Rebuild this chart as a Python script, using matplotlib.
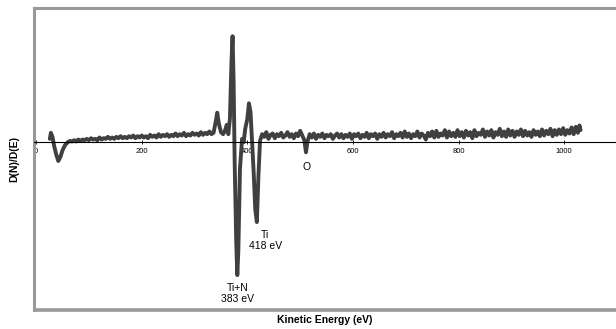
import matplotlib
matplotlib.use("Agg")
import matplotlib.pyplot as plt
import numpy as np

plt.rcParams['font.family'] = ['Liberation Sans', 'DejaVu Sans']

# Auger spectrum, values (arbitrary units)
# low-energy part, up to the Ti/N region
low_ev = [
    26, 28, 31, 34, 38, 42, 46, 50, 55,
    60, 64, 68, 72, 76, 80, 84, 88, 92, 96, 100, 104, 108, 112, 116, 120,
    124, 128, 132, 136, 140, 144, 148, 152, 156, 160, 164, 168, 172, 176, 180,
    184, 188, 192, 196, 200, 204, 208, 212, 216, 220, 224, 228, 232, 236, 240,
    244, 248, 252, 256, 260, 264, 268, 272, 276, 280, 284, 288, 292, 296, 300,
    304, 308, 312, 316, 320, 324, 328, 332, 336,
]
low_dnde = [
    0.05, 0.14, 0.08, -0.05, -0.18, -0.28, -0.22, -0.12, -0.04,
    0.00, 0.02, 0.01, 0.03, 0.01, 0.04, 0.02, 0.04, 0.03, 0.05, 0.03, 0.06, 0.04, 0.05, 0.03, 0.07,
    0.04, 0.06, 0.05, 0.08, 0.05, 0.07, 0.05, 0.08, 0.06, 0.09, 0.06, 0.08, 0.06, 0.09, 0.07,
    0.10, 0.06, 0.09, 0.07, 0.10, 0.07, 0.09, 0.06, 0.11, 0.08, 0.10, 0.07, 0.12, 0.08, 0.11,
    0.09, 0.12, 0.08, 0.11, 0.09, 0.13, 0.09, 0.12, 0.10, 0.14, 0.09, 0.12, 0.10, 0.14, 0.11,
    0.13, 0.10, 0.15, 0.11, 0.14, 0.12, 0.16, 0.12, 0.14,
]

# Ti+N (383 eV) and Ti (418 eV) structure
peak_ev = [
    340, 343, 346, 350, 354, 358, 361, 364, 367, 370, 372, 374, 376, 379,
    381, 383, 386, 390, 393, 396, 400, 403, 406, 409, 412, 415, 418, 421, 424,
]
peak_dnde = [
    0.30, 0.44, 0.28, 0.15, 0.12, 0.18, 0.26, 0.12, 0.35, 1.20, 1.58, 0.90, -0.30, -1.50,
    -1.98, -1.60, -0.40, 0.05, 0.00, 0.20, 0.35, 0.58, 0.45, 0.00, -0.45, -1.00, -1.19, -0.50, 0.02,
]

# high-energy part with the O dip at ~511 eV
high_ev = [
    428, 432, 436, 440, 444, 448, 452, 456, 460, 464, 468, 472, 476, 480,
    484, 488, 492, 496, 500, 504, 508, 511, 514,
    518, 522, 526, 530, 534, 538, 542, 546, 550, 554, 558, 562, 566, 570,
    574, 578, 582, 586, 590, 594, 598, 602, 606, 610, 614, 618, 622, 626,
    630, 634, 638, 642, 646, 650, 654, 658, 662, 666, 670, 674, 678, 682,
    686, 690, 694, 698, 702, 706, 710, 714, 718, 722, 726, 730, 734, 738,
    742, 746, 750, 754, 758, 762, 766, 770, 774, 778, 782, 786, 790, 794,
    798, 802, 806, 810, 814, 818, 822, 826, 830, 834, 838, 842, 846, 850,
    854, 858, 862, 866, 870, 874, 878, 882, 886, 890, 894, 898, 902, 906,
    910, 914, 918, 922, 926, 930, 934, 938, 942, 946, 950, 954, 958, 962,
    966, 970, 974, 978, 982, 986, 990, 994, 998, 1002, 1006, 1010, 1014, 1018,
    1022, 1026, 1029, 1031,
]
high_dnde = [
    0.12, 0.08, 0.15, 0.05, 0.11, 0.13, 0.06, 0.12, 0.09, 0.14, 0.07, 0.10, 0.15, 0.08,
    0.12, 0.06, 0.13, 0.09, 0.17, 0.10, 0.03, -0.15, 0.01,
    0.12, 0.07, 0.13, 0.05, 0.11, 0.08, 0.13, 0.06, 0.11, 0.09, 0.12, 0.05, 0.10, 0.13,
    0.07, 0.12, 0.06, 0.11, 0.08, 0.13, 0.05, 0.12, 0.09, 0.13, 0.06, 0.11, 0.08, 0.14,
    0.06, 0.12, 0.09, 0.13, 0.05, 0.12, 0.08, 0.14, 0.07, 0.12, 0.09, 0.15, 0.06, 0.12,
    0.09, 0.14, 0.07, 0.16, 0.08, 0.13, 0.06, 0.12, 0.09, 0.16, 0.07, 0.13, 0.10, 0.04,
    0.14, 0.09, 0.16, 0.07, 0.17, 0.08, 0.13, 0.10, 0.18, 0.07, 0.16, 0.09, 0.14, 0.08,
    0.18, 0.09, 0.15, 0.07, 0.17, 0.10, 0.15, 0.06, 0.18, 0.09, 0.14, 0.11, 0.19, 0.08,
    0.16, 0.10, 0.18, 0.07, 0.15, 0.11, 0.20, 0.09, 0.16, 0.08, 0.19, 0.10, 0.17, 0.08,
    0.16, 0.11, 0.19, 0.09, 0.17, 0.10, 0.15, 0.08, 0.18, 0.11, 0.16, 0.09, 0.19, 0.10,
    0.17, 0.12, 0.20, 0.09, 0.18, 0.11, 0.19, 0.12, 0.21, 0.11, 0.18, 0.13, 0.22, 0.12,
    0.23, 0.14, 0.25, 0.18,
]

xticks = [0, 200, 400, 600, 800, 1000]
peak_labels = ["Ti+N\n383 eV", "Ti\n418 eV", "O"]
peak_label_x = [381, 434, 513]
peak_label_y = [-2.25, -1.47, -0.37]

energy_ev = low_ev + peak_ev + high_ev
dnde = low_dnde + peak_dnde + high_dnde

fig = plt.figure(figsize=(6.16, 3.29), dpi=100)
ax = fig.add_axes([34 / 616, 19 / 329, 583 / 616, 302 / 329])

ax.plot(energy_ev, dnde, color='#404040', lw=2.8, solid_joinstyle='round',
        solid_capstyle='round')

ax.set_xlim(-4, 1100)
ax.set_ylim(-2.5, 2.0)

# gray frame
for s in ['left', 'top']:
    ax.spines[s].set_color('#999999')
    ax.spines[s].set_linewidth(2.2)
ax.spines['right'].set_visible(False)
ax.plot([0, 1], [0, 0], transform=ax.transAxes, color='#999999', lw=2.6,
        clip_on=False, solid_capstyle='butt')

# x axis drawn through zero
ax.spines['bottom'].set_position(('data', 0))
ax.spines['bottom'].set_color('black')
ax.spines['bottom'].set_linewidth(0.8)
ax.set_xticks(xticks)
ax.tick_params(axis='x', direction='inout', length=3, width=0.6, pad=3,
               labelsize=5.5)
ax.set_yticks([])

ax.set_ylabel('D(N)/D(E)', fontsize=7.5, fontweight='bold')
ax.yaxis.set_label_coords(-0.026, 0.5)
fig.text(325 / 616, 1 - 320 / 329, 'Kinetic Energy (eV)', ha='center',
         va='center', fontsize=7.5, fontweight='bold')

for txt, px, py in zip(peak_labels, peak_label_x, peak_label_y):
    ax.text(px, py, txt, ha='center', va='center', fontsize=7.5,
            linespacing=1.15)

fig.savefig('out.png', dpi=100)
